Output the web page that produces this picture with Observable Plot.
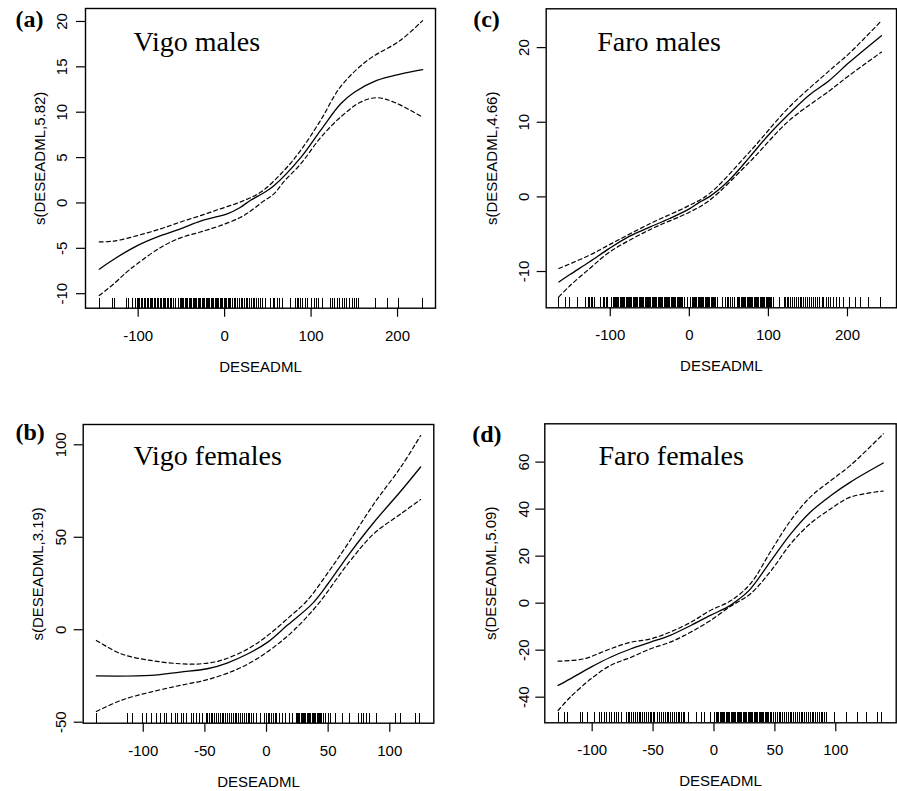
<!DOCTYPE html>
<html><head><meta charset="utf-8">
<script src="https://cdn.jsdelivr.net/npm/d3@7"></script>
<script src="https://cdn.jsdelivr.net/npm/@observablehq/plot@0.6"></script>
<style>
body{margin:0;background:#fff}
#wrap{position:relative;width:897px;height:791px;background:#fff;overflow:hidden}
#wrap svg{position:absolute;overflow:visible}
</style></head><body><div id="wrap"></div>
<script>
// ---- Panel (a) Vigo males ----
const vmFit = [[-145,-7.3],[-128,-6.2],[-101,-4.7],[-74,-3.6],[-51,-2.85],[-28,-2.0],[-12,-1.6],[3,-1.2],[18,-0.5],[30,0.3],[45,1.1],[57,1.9],[88,5.0],[111,8.0],[134,10.9],[150,12.2],[176,13.5],[203,14.2],[229,14.7]];
const vmUp = [[-145,-4.3],[-128,-4.2],[-101,-3.6],[-74,-2.85],[-51,-2.1],[-28,-1.4],[-5,-0.65],[18,0.1],[42,1.2],[69,3.6],[88,5.8],[111,9.1],[134,12.8],[165,15.7],[203,17.9],[229,20.1]];
const vmLo = [[-145,-10.2],[-128,-8.9],[-113,-7.6],[-101,-6.7],[-74,-4.9],[-51,-3.85],[-28,-3.2],[-5,-2.5],[18,-1.6],[30,-0.9],[45,0.2],[57,1.0],[69,2.4],[88,4.3],[111,7.2],[134,9.45],[157,11.1],[176,11.6],[196,11.1],[229,9.45]];
const vmRug = [-145,-130,-127,-114,-111,-107,-103,-101,-99.5,-98,-96,-94.5,-93,-91,-89.5,-88,-86,-84.5,-83,-81,-79.5,-78,-76,-74.5,-73,-71,-69.5,-68,-66,-64.5,-63,-61,-59,-57,-53,-51.5,-50,-48.5,-47,-45.5,-44,-42.5,-41,-39.5,-38,-36.5,-35,-33.5,-32,-30.5,-29,-27.5,-26,-24.5,-23,-21.5,-20,-18.5,-17,-15.5,-14,-12.5,-11,-9.5,-8,-6.5,-5,-3.5,-2,-0.5,1,2.5,4,5.5,7,9,11,13,15,17,19,21,23,25,27,29,31,33,35,37,39,41,44,47,53,56,58,61,64,67,76,82,84,86,88,90,93,96,100,104,106,109,113,122,125,127,130,133,136,139,141,144,148,150,152,155,174,188,201,229];

// ---- Panel (c) Faro males ----
const fmFit = [[-165,-11.4],[-151,-10.4],[-126,-8.7],[-101,-6.9],[-76,-5.3],[-50,-4.05],[-25,-2.9],[0,-1.6],[13,-0.7],[25,0],[50,2.2],[76,5.3],[101,8.4],[126,11.1],[151,13.6],[177,15.6],[202,18.0],[243,21.6]];
const fmUp = [[-165,-9.6],[-126,-7.8],[-101,-6.4],[-50,-3.6],[0,-1.15],[25,0.4],[76,6.0],[126,12.0],[177,16.9],[202,19.2],[243,23.6]];
const fmLo = [[-165,-13.4],[-151,-11.9],[-126,-9.6],[-101,-7.4],[-50,-4.4],[0,-2.05],[25,-0.5],[76,4.65],[126,10.2],[177,14.2],[202,16.25],[243,19.4]];
const fmRug = [-165,-156,-152,-141,-131,-128,-126,-124,-122,-120,-112,-109,-107,-105,-103,-99,-98,-96.5,-95,-93.5,-92,-90.5,-89,-87.5,-86,-84.5,-83,-81.5,-80,-78.5,-77,-75.5,-74,-72.5,-71,-69.5,-68,-66.5,-65,-63.5,-62,-60.5,-59,-57.5,-56,-54.5,-53,-51.5,-50,-48.5,-47,-45.5,-44,-42.5,-41,-39.5,-38,-36.5,-35,-33.5,-32,-30.5,-29,-27.5,-26,-24.5,-23,-21.5,-20,-18.5,-17,-15.5,-14,-12.5,-11,-9.5,-8,-6.5,-2,2,3.5,5,6.5,8,9.5,11,12.5,14,15.5,17,18.5,20,21.5,23,24.5,26,27.5,29,30.5,32,33.5,35,42,46,48,50,52,54,56.5,61,62.5,64,65.5,67,68.5,70,71.5,73,74.5,76,77.5,79,80.5,82,83.5,85,86.5,88,89.5,91,92.5,94,95.5,97,98.5,100,101.5,103,104.5,106,107,114,120,122,124,126,128,131,133,135,138,140,142,145,147,150,152,155,157,160,162,165,168,170,173,176,179,182,186,190,195,202,210,217,227,242];

// ---- Panel (b) Vigo females ----
const vfFit = [[-138,-25],[-94,-24.7],[-70,-22.9],[-48,-21.1],[-32,-18],[-15,-13],[1,-6.7],[17,2.5],[37,14],[50,25],[66,40],[87,58],[109,75],[125,88]];
const vfUp = [[-138,-5.8],[-118,-13],[-94,-16.6],[-70,-18.4],[-53,-18.4],[-37,-16.6],[-15,-10.3],[1,-3.1],[17,6],[33,15.8],[50,31],[66,46.5],[87,68],[109,88],[125,105]];
const vfLo = [[-138,-44.2],[-118,-38.2],[-94,-33.7],[-70,-30.1],[-48,-27],[-26,-22],[-10,-16.6],[6,-9.4],[22,-0.4],[42,14],[66,35.7],[87,51.9],[109,62.7],[125,70.4]];
const vfRug = [-138,-112.5,-109,-101,-97.5,-93.5,-89.5,-86,-83,-81.5,-77,-74,-72,-69,-67,-65,-61,-59,-57,-54,-52,-49,-48,-46.5,-45,-43.5,-42,-40.5,-39,-37.5,-36,-34.5,-33,-31.5,-30,-28.5,-27,-25.5,-24,-22.5,-21,-19.5,-18,-16.5,-15,-13.5,-12,-10.5,-8.5,-4.5,-2,0,1.5,2.5,4,5.5,7,8.5,10.5,13,15,18.5,21,24,25,26,27,28,29,30,31,32,33,34,35,36,37,38,39,40,41,42,43,44,45,46.5,48,50,52,56,62,67,75,77,79,81,83.5,89,105,109,121,124];

// ---- Panel (d) Faro females ----
const ffFit = [[-128,-35],[-118,-32.2],[-101,-27.2],[-85,-23],[-68,-19.4],[-52,-16.6],[-36,-13.7],[-19,-9.5],[-3,-5.2],[11,-1.7],[19,1.1],[30,6.1],[47,18.2],[63,29.5],[79,38.7],[96,45.8],[112,51.5],[139,59.6]];
const ffUp = [[-128,-24.7],[-107,-23.7],[-85,-19.4],[-68,-16.6],[-52,-15.2],[-36,-12.3],[-19,-8.1],[-3,-3.1],[14,1.1],[30,8.3],[47,22.4],[63,35.2],[79,45.1],[96,52.2],[112,58.6],[139,72]];
const ffLo = [[-128,-45.7],[-118,-40],[-101,-32.2],[-85,-26.5],[-68,-23],[-52,-19.4],[-36,-16.6],[-19,-12.3],[-3,-7.4],[14,-1.2],[30,4.0],[47,13.9],[63,25.3],[79,33.8],[96,40.2],[112,45.1],[139,47.7]];
const ffRug = [-128,-123,-120,-110,-108,-103.5,-98,-94,-92,-90,-88,-86,-84,-82,-80,-78,-76,-72,-70.5,-69,-67.5,-66,-64.5,-63,-61.5,-60,-58.5,-57,-55.5,-54,-52.5,-51,-49.5,-48.5,-46,-44.5,-43,-41.5,-40,-38.5,-37,-35.5,-34,-32.5,-31,-29.5,-28,-26.5,-25,-24,-21,-14.5,-10,-7.5,-3,0.5,2,3,4,5,6,7,8,9,10,11,12,13,14,15,16,17,18,19,20,21,22,23,24,25,26,27,28,29,30,31,32,33,34,35,36,37,38,39,40,41,42,43,44,45,46,47,49,50.5,52,53.5,55,56.5,58,59.5,61,62.5,64,65.5,67,68.5,70,71.5,73,74.5,76,77.5,79,80.5,82,83.5,85,86.5,88,89.5,91,92.5,99,108.5,118,125,134.5,137.5];

// ---- labels & ticks ----
const letters = ["(a)", "(c)", "(b)", "(d)"];
const titles = ["Vigo males", "Faro males", "Vigo females", "Faro females"];
const yLabels = ["s(DESEADML,5.82)", "s(DESEADML,4.66)", "s(DESEADML,3.19)", "s(DESEADML,5.09)"];
const xLabel = "DESEADML";
const xTicksA = [-100, 0, 100, 200], yTicksA = [-10, -5, 0, 5, 10, 15, 20];
const xTicksC = [-100, 0, 100, 200], yTicksC = [-10, 0, 10, 20];
const xTicksB = [-100, -50, 0, 50, 100], yTicksB = [-50, 0, 50, 100];
const xTicksD = [-100, -50, 0, 50, 100], yTicksD = [-40, -20, 0, 20, 40, 60];

function panel(o) {
  const [mt, mr, mb, ml] = o.m;
  const frameH = o.h - mt - mb;
  const line = (d, dash) => Plot.line(d, {x: p => p[0], y: p => p[1], curve: "catmull-rom", stroke: "#000", strokeWidth: dash ? 1.2 : 1.3, strokeDasharray: dash ? "4,3" : null});
  const svg = Plot.plot({
    width: o.w, height: o.h,
    marginTop: mt, marginRight: mr, marginBottom: mb, marginLeft: ml,
    style: {fontFamily: "'Liberation Sans', Arial, sans-serif", fontSize: "15px", color: "#000", background: "transparent", overflow: "visible"},
    x: {domain: o.xd}, y: {domain: o.yd},
    marks: [
      Plot.axisX({ticks: o.xt, tickSize: 9, tickPadding: 13, tickFormat: d => String(d), label: null, strokeWidth: 1.2}),
      Plot.axisY({ticks: o.yt, tickSize: 9, tickPadding: o.yPad, tickRotate: -90, tickFormat: d => String(d), label: null, strokeWidth: 1.2}),
      Plot.tickX(o.rug, {x: d => d, insetTop: frameH - 10, stroke: "#000", strokeWidth: 1, shapeRendering: "crispEdges"}),
      line(o.lo, true), line(o.up, true), line(o.fit, false),
      Plot.frame({stroke: "#000", strokeWidth: 1.4}),
      Plot.text([xLabel], {frameAnchor: "bottom", dy: 53, lineAnchor: "top", textAnchor: "middle", fill: "#000"}),
      Plot.text([o.ylab], {frameAnchor: "left", rotate: -90, dx: o.ylDx, lineAnchor: "bottom", textAnchor: "middle", fill: "#000"}),
      Plot.text([o.title], {frameAnchor: "top-left", dx: o.tDx, dy: o.tDy, textAnchor: "start", lineAnchor: "bottom", fontFamily: "'Liberation Serif', 'Times New Roman', serif", fontSize: 28, fill: "#000"}),
      Plot.text([o.letter], {frameAnchor: "top-left", dx: o.lDx, dy: o.lDy, textAnchor: "start", lineAnchor: "bottom", fontFamily: "'Liberation Serif', 'Times New Roman', serif", fontSize: 24, fontWeight: "bold", fill: "#000"})
    ]
  });
  svg.style.left = o.left + "px";
  svg.style.top = o.top + "px";
  document.getElementById("wrap").appendChild(svg);
}

panel({left: 0, top: 0, w: 448, h: 395, m: [8, 13, 87.3, 85], xd: [-160.9, 243.9], yd: [-11.6, 21.43], xt: xTicksA, yt: yTicksA,
  fit: vmFit, up: vmUp, lo: vmLo, rug: vmRug, ylab: yLabels[0], title: titles[0], letter: letters[0],
  yPad: 10, ylDx: -41, tDx: 48, tDy: 42.5, lDx: -70, lDy: 18.7});
panel({left: 448, top: 0, w: 449, h: 395, m: [8.3, 1, 87.7, 97.7], xd: [-181, 262], yd: [-14.86, 25.2], xt: xTicksC, yt: yTicksC,
  fit: fmFit, up: fmUp, lo: fmLo, rug: fmRug, ylab: yLabels[1], title: titles[1], letter: letters[1],
  yPad: 8, ylDx: -49, tDx: 51, tDy: 42.4, lDx: -73, lDy: 17.7});
panel({left: 0, top: 395, w: 448, h: 396, m: [29, 14.7, 68.3, 82.7], xd: [-148.7, 135.7], yd: [-50.54, 110.98], xt: xTicksB, yt: yTicksB,
  fit: vfFit, up: vfUp, lo: vfLo, rug: vfRug, ylab: yLabels[2], title: titles[2], letter: letters[2],
  yPad: 8, ylDx: -40, tDx: 50.3, tDy: 40, lDx: -67.7, lDy: 15.3});
panel({left: 448, top: 395, w: 449, h: 396, m: [28.3, 1.3, 68.7, 96.3], xd: [-138.9, 149.6], yd: [-50.9, 76.3], xt: xTicksD, yt: yTicksD,
  fit: ffFit, up: ffUp, lo: ffLo, rug: ffRug, ylab: yLabels[3], title: titles[3], letter: letters[3],
  yPad: 7, ylDx: -49, tDx: 53.7, tDy: 40.7, lDx: -72.6, lDy: 18.4});
</script></body></html>
